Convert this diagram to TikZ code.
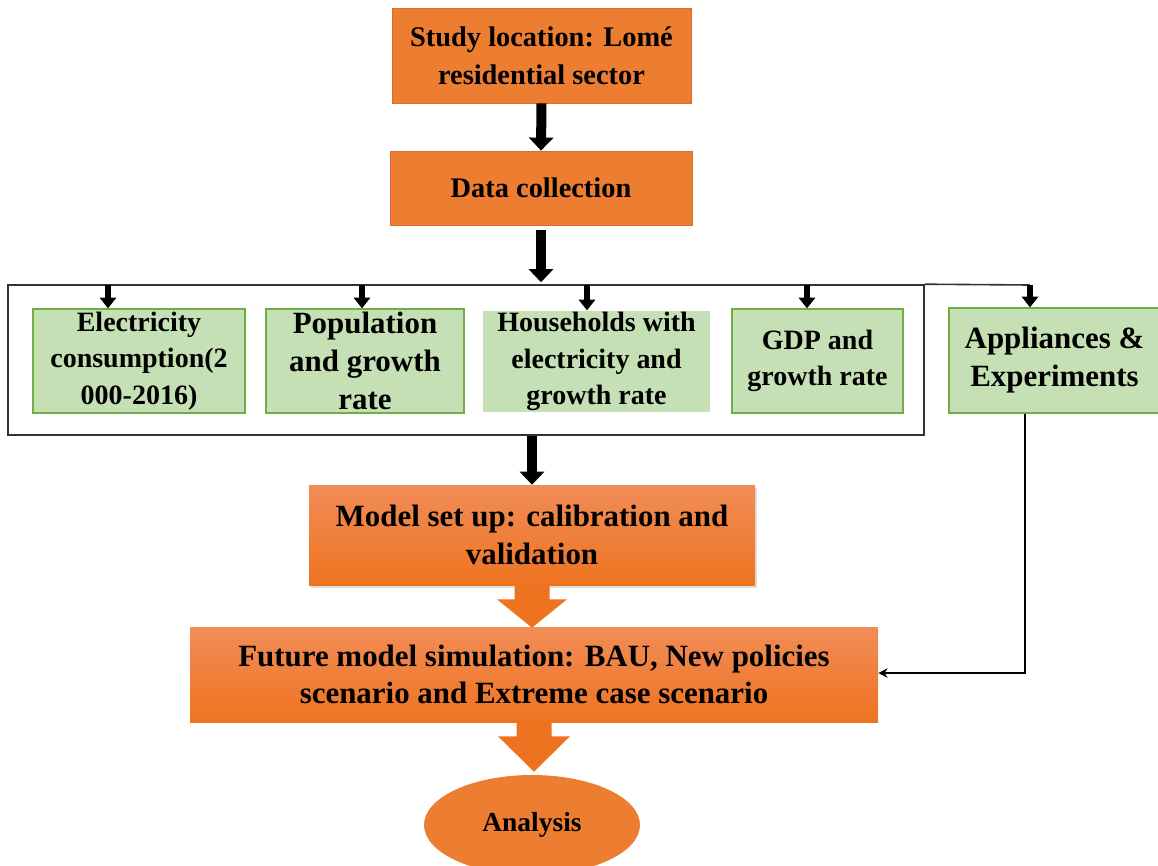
\documentclass[tikz,border=0pt]{standalone}
\usepackage{fontspec}
\setmainfont{Liberation Serif}
\usetikzlibrary{arrows.meta,calc,shadows,shapes.geometric}
\definecolor{orM}{HTML}{ED7D31}
\definecolor{orT}{HTML}{F18D57}
\definecolor{orB}{HTML}{EE7320}
\definecolor{orE}{HTML}{D96E2A}
\definecolor{grF}{HTML}{C5E0B4}
\definecolor{grD}{HTML}{70AD47}
\definecolor{frm}{HTML}{333333}
\begin{document}
\begin{tikzpicture}[x=0.75pt,y=-0.75pt,
  obox/.style={rectangle, fill=orM, draw=orE, line width=0.6pt, align=center, inner sep=0pt,
    font=\fontsize{21.3}{28.5}\selectfont\bfseries},
  gobox/.style={rectangle, top color=orT, bottom color=orB, draw=none, align=center, inner sep=0pt,
    font=\fontsize{23.2}{28}\selectfont\bfseries},
  gbox/.style={rectangle, fill=grF, draw=grD, line width=0.9pt, align=center, inner sep=0pt},
  gsmall/.style={font=\fontsize{21}{27.5}\selectfont\bfseries},
  glarge/.style={font=\fontsize{23.2}{28.5}\selectfont\bfseries},
  bigarr/.style={line width=7.5pt, -{Triangle[width=18pt,length=9.75pt]}},
  smallarr/.style={line width=4.5pt, -{Triangle[width=12pt,length=8pt]}},
  thinline/.style={line width=2pt},
  blockarr/.style={fill=orB, draw=none},
]
\useasboundingbox (0,0) rectangle (1158,865);

% top boxes
\node[obox, minimum width=224.25pt, minimum height=71.25pt] (loc) at (541.5,55.5)
  {Study location: Lomé\\residential sector};
\node[obox, minimum width=226.5pt, minimum height=55.5pt] (dc) at (541,188)
  {Data collection};

% frame
\node[rectangle, draw=frm, line width=1.2pt, minimum width=687pt, minimum height=112.5pt,
  inner sep=0pt] (frame) at (466,360) {};
\coordinate (jx) at (1030,285);
\draw[draw=frm, line width=1.2pt] (frame.north east) -- (jx);

% green boxes
\node[gbox, gsmall, minimum width=159pt, minimum height=78pt] (elec) at (139,361)
  {Electricity\\consumption(2\\000-2016)};
\node[gbox, glarge, minimum width=148.5pt, minimum height=78pt] (pop) at (365,361)
  {Population\\and growth\\rate};
\node[gbox, gsmall, draw=none, minimum width=170.25pt, minimum height=75.75pt] (hh) at (596.5,361.5)
  {Households with\\electricity and\\growth rate};
\node[gbox, gsmall, minimum width=128.25pt, minimum height=78pt] (gdp) at (817.5,361)
  {GDP and\\growth rate};
\node[gbox, glarge, minimum width=158.25pt, minimum height=78.75pt] (app) at (1054.5,360.5)
  {Appliances \&\\Experiments};

% model boxes
\node[gobox, minimum width=334.5pt, minimum height=75pt,
  drop shadow={shadow xshift=1.5pt, shadow yshift=-2pt, opacity=0.25}] (model) at (532,535)
  {Model set up: calibration and\\validation};
\node[gobox, minimum width=516pt, minimum height=71.25pt] (fut) at (534,674.5)
  {Future model simulation: BAU, New policies\\scenario and Extreme case scenario};
\node[ellipse, fill=orM, draw=none, minimum width=162pt, minimum height=75pt, inner sep=0pt,
  font=\fontsize{20.6}{24}\selectfont\bfseries] (ana) at (532,825) {Analysis};

% arrows
\draw[bigarr] (loc.south) -- (dc.north);
\draw[bigarr] ($(dc.south)+(0,5)$) -- ($(dc.south |- frame.north)+(0,-2)$);

\coordinate (t1) at (108,285);
\coordinate (t2) at (362,285);
\coordinate (t3) at (587,285);
\coordinate (t4) at (807,285);
\draw[smallarr] (t1) -- (t1 |- elec.north);
\draw[smallarr] (t2) -- (t2 |- pop.north);
\draw[smallarr] (t3) -- (t3 |- hh.north);
\draw[smallarr] (t4) -- (t4 |- gdp.north);
\draw[smallarr] (jx) -- (jx |- app.north);

\draw[bigarr] (model.north |- frame.south) -- (model.north);

% block arrows
\fill[blockarr] ($(model.south)+(-17.5,0)$) -- ($(model.south)+(-17.5,14)$) -- ($(model.south)+(-35,14)$)
  -- ($(model.south |- fut.north)+(0,1)$) -- ($(model.south)+(35,14)$) -- ($(model.south)+(17.5,14)$)
  -- ($(model.south)+(17.5,0)$) -- cycle;
\fill[blockarr] ($(fut.south)+(-17.5,0)$) -- ($(fut.south)+(-17.5,14)$) -- ($(fut.south)+(-36,14)$)
  -- ($(fut.south |- ana.north)+(0,-3)$) -- ($(fut.south)+(36,14)$) -- ($(fut.south)+(17.5,14)$)
  -- ($(fut.south)+(17.5,0)$) -- cycle;

% feedback line
\coordinate (fb) at (1025,673);
\draw[thinline, -{Stealth[width=7pt,length=7pt]}] (fb |- app.south) -- (fb) -- (fb -| fut.east);
\end{tikzpicture}
\end{document}
